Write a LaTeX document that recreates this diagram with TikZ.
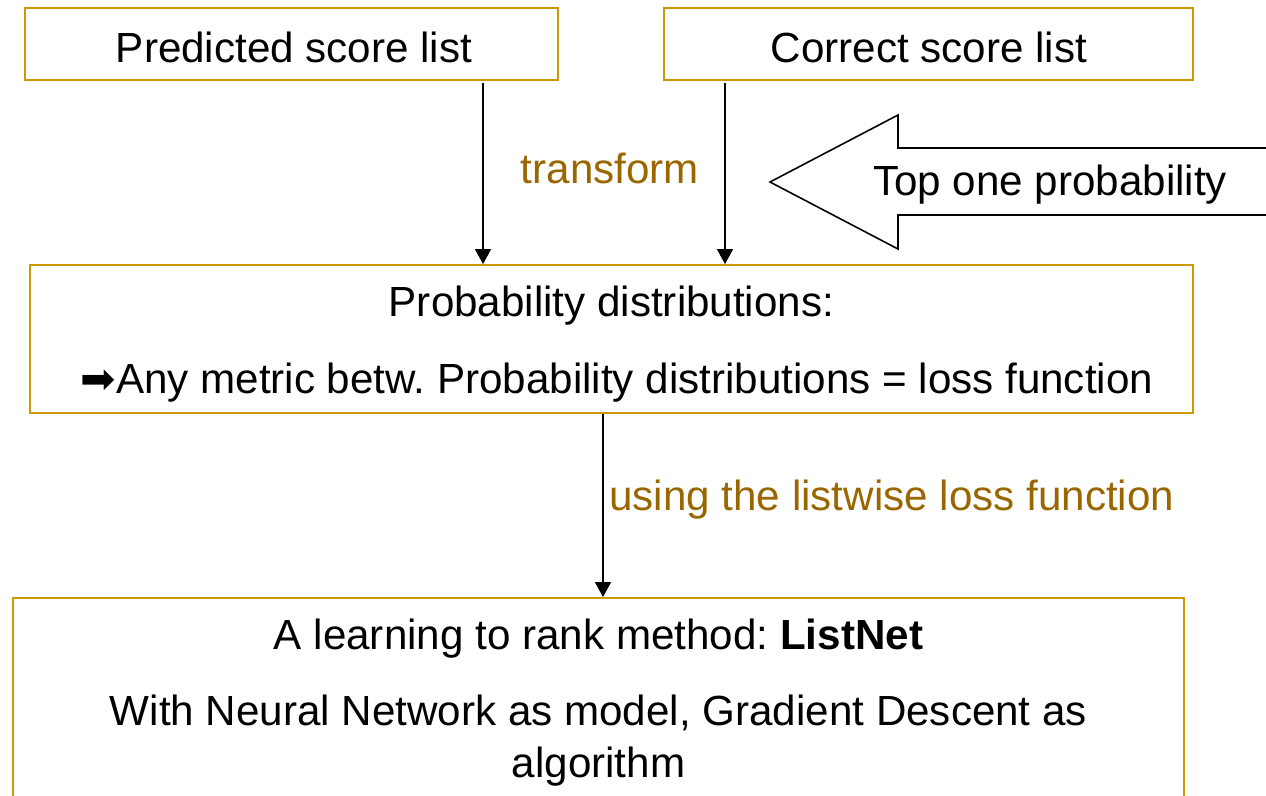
\documentclass[tikz,border=0pt]{standalone}
\usepackage{fontspec}
\setmainfont{Liberation Sans}
\newfontfamily\dejavu{DejaVu Sans}
\usetikzlibrary{arrows.meta}
\definecolor{boxgold}{RGB}{204,153,0}
\definecolor{labelbrown}{RGB}{153,102,0}
\tikzset{
	scorebox/.style={
		draw = boxgold,
		line width = 1.1pt,
		inner sep = 0pt
	},
	lbl/.style={
		text = labelbrown,
		inner sep = 0pt
	},
	txt/.style={
		inner sep = 0pt,
		align = center
	},
}
\tikzset{>={Triangle[width=3.2mm,length=3mm]}}
\frenchspacing

\begin{document}
\begin{tikzpicture}[x=0.02cm, y=-0.02cm, font=\fontsize{24}{29.6}\selectfont]
    \useasboundingbox (0,0) rectangle (1266,795);
    \clip (0,0) rectangle (1266,795);
    % boxes
    \node[scorebox, minimum width=10.66cm, minimum height=1.44cm] (pred) at (291.5,44) {};
    \node[scorebox, minimum width=10.58cm, minimum height=1.44cm] (corr) at (928.5,44) {};
    \node[scorebox, minimum width=23.26cm, minimum height=2.96cm] (prob) at (611.5,339) {};
    \node[scorebox, minimum width=23.42cm, minimum height=4.6cm] (rank) at (598.5,713) {};
    \node[txt] (pred1) at (294,47) {Predicted score list};
    \node[txt] (corr1) at (929,47) {Correct score list};
    \node[txt] (prob1) at (611.5,306) {Probability distributions:};
    \node[txt] (prob2) at (617,383) {{\dejavu\symbol{"27A1}}Any metric betw. Probability distributions = loss function};
    \node[txt] (rank1) at (598.5,639) {A learning to rank method: \textbf{ListNet}};
    \node[txt] (rank2) at (598.5,741) {With Neural Network as model, Gradient Descent as\\algorithm};
    % top one probability arrow
    \draw[line width=0.9pt] (770,182) -- (898,115) -- (898,148) -- (1275,148)
      -- (1275,215) -- (898,215) -- (898,249) -- cycle;
    \node[txt] (top) at (1050,185) {Top one probability};
    % connectors
    \coordinate (p) at (483,83);
    \coordinate (c) at (725,83);
    \coordinate (l) at (603,0);
    \draw[->, line width=0.8pt] (p) -- (p |- prob.north);
    \draw[->, line width=0.8pt] (c) -- (c |- prob.north);
    \draw[->, line width=0.8pt] (prob.south -| l) -- (rank.north -| l);
    \node[lbl] (trans) at (610,168) {transform};
    \node[lbl, anchor=west] (loss) at (609,500) {using the listwise loss function};
\end{tikzpicture}
\end{document}
